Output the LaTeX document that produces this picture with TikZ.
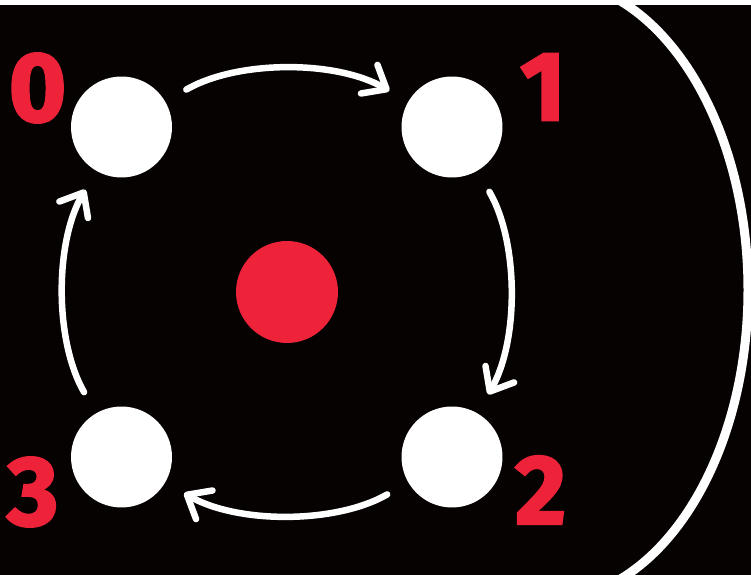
\documentclass[tikz,border=0pt]{standalone}
\usepackage{fontspec}
\usepackage{tikz}
\usetikzlibrary{arrows.meta, positioning}
\newfontfamily\numfont{Fira Sans}[BoldFeatures={FakeBold=2.4}]
\definecolor{bgblack}{HTML}{070202}
\definecolor{hubred}{HTML}{EE2238}

\begin{document}
\begin{tikzpicture}[
    x = 0.02cm, y = 0.02cm,
    slot/.style   = {circle, fill=white, minimum size=2.02cm, inner sep=0pt},
    hub/.style    = {circle, fill=hubred, minimum size=2.04cm, inner sep=0pt},
    numlab/.style = {text=hubred, inner sep=0pt,
                     font=\numfont\bfseries\fontsize{56}{56}\selectfont},
    arr/.style    = {-{Straight Barb[round, length=4mm, width=6.6mm]}, white,
                     line width=0.13cm, line cap=round,
                     bend left=30, looseness=0.88,
                     shorten <=0.48cm, shorten >=0.43cm},
    ring/.style   = {white, line width=0.18cm},
  ]
  \useasboundingbox (0,0) rectangle (751,575);
  \fill[white] (0,0) rectangle (751,575);
  \fill[bgblack] (0,0) rectangle (751,570);
  % outer ring, only its right side is in view
  \draw[ring] (548,-25) arc[start angle=-90, end angle=90, x radius=200, y radius=310];

  \node[hub]  (ctr) at (287,283) {};
  \node[slot] (p0) at (121.5,448) {};
  \node[slot] (p1) at (452,448) {};
  \node[slot] (p2) at (452,118) {};
  \node[slot] (p3) at (121.5,118) {};

  \node[numlab, left=0.08cm of p0, yshift=0.78cm]   (l0) {0};
  \node[numlab, right=0.34cm of p1, yshift=0.8cm]   (l1) {1};
  \node[numlab, right=0.24cm of p2, yshift=-0.66cm] (l2) {2};
  \node[numlab, left=0.24cm of p3, yshift=-0.7cm]   (l3) {3};

  \draw[arr] (p0) to (p1);
  \draw[arr] (p1) to (p2);
  \draw[arr] (p2) to (p3);
  \draw[arr] (p3) to (p0);
\end{tikzpicture}
\end{document}
